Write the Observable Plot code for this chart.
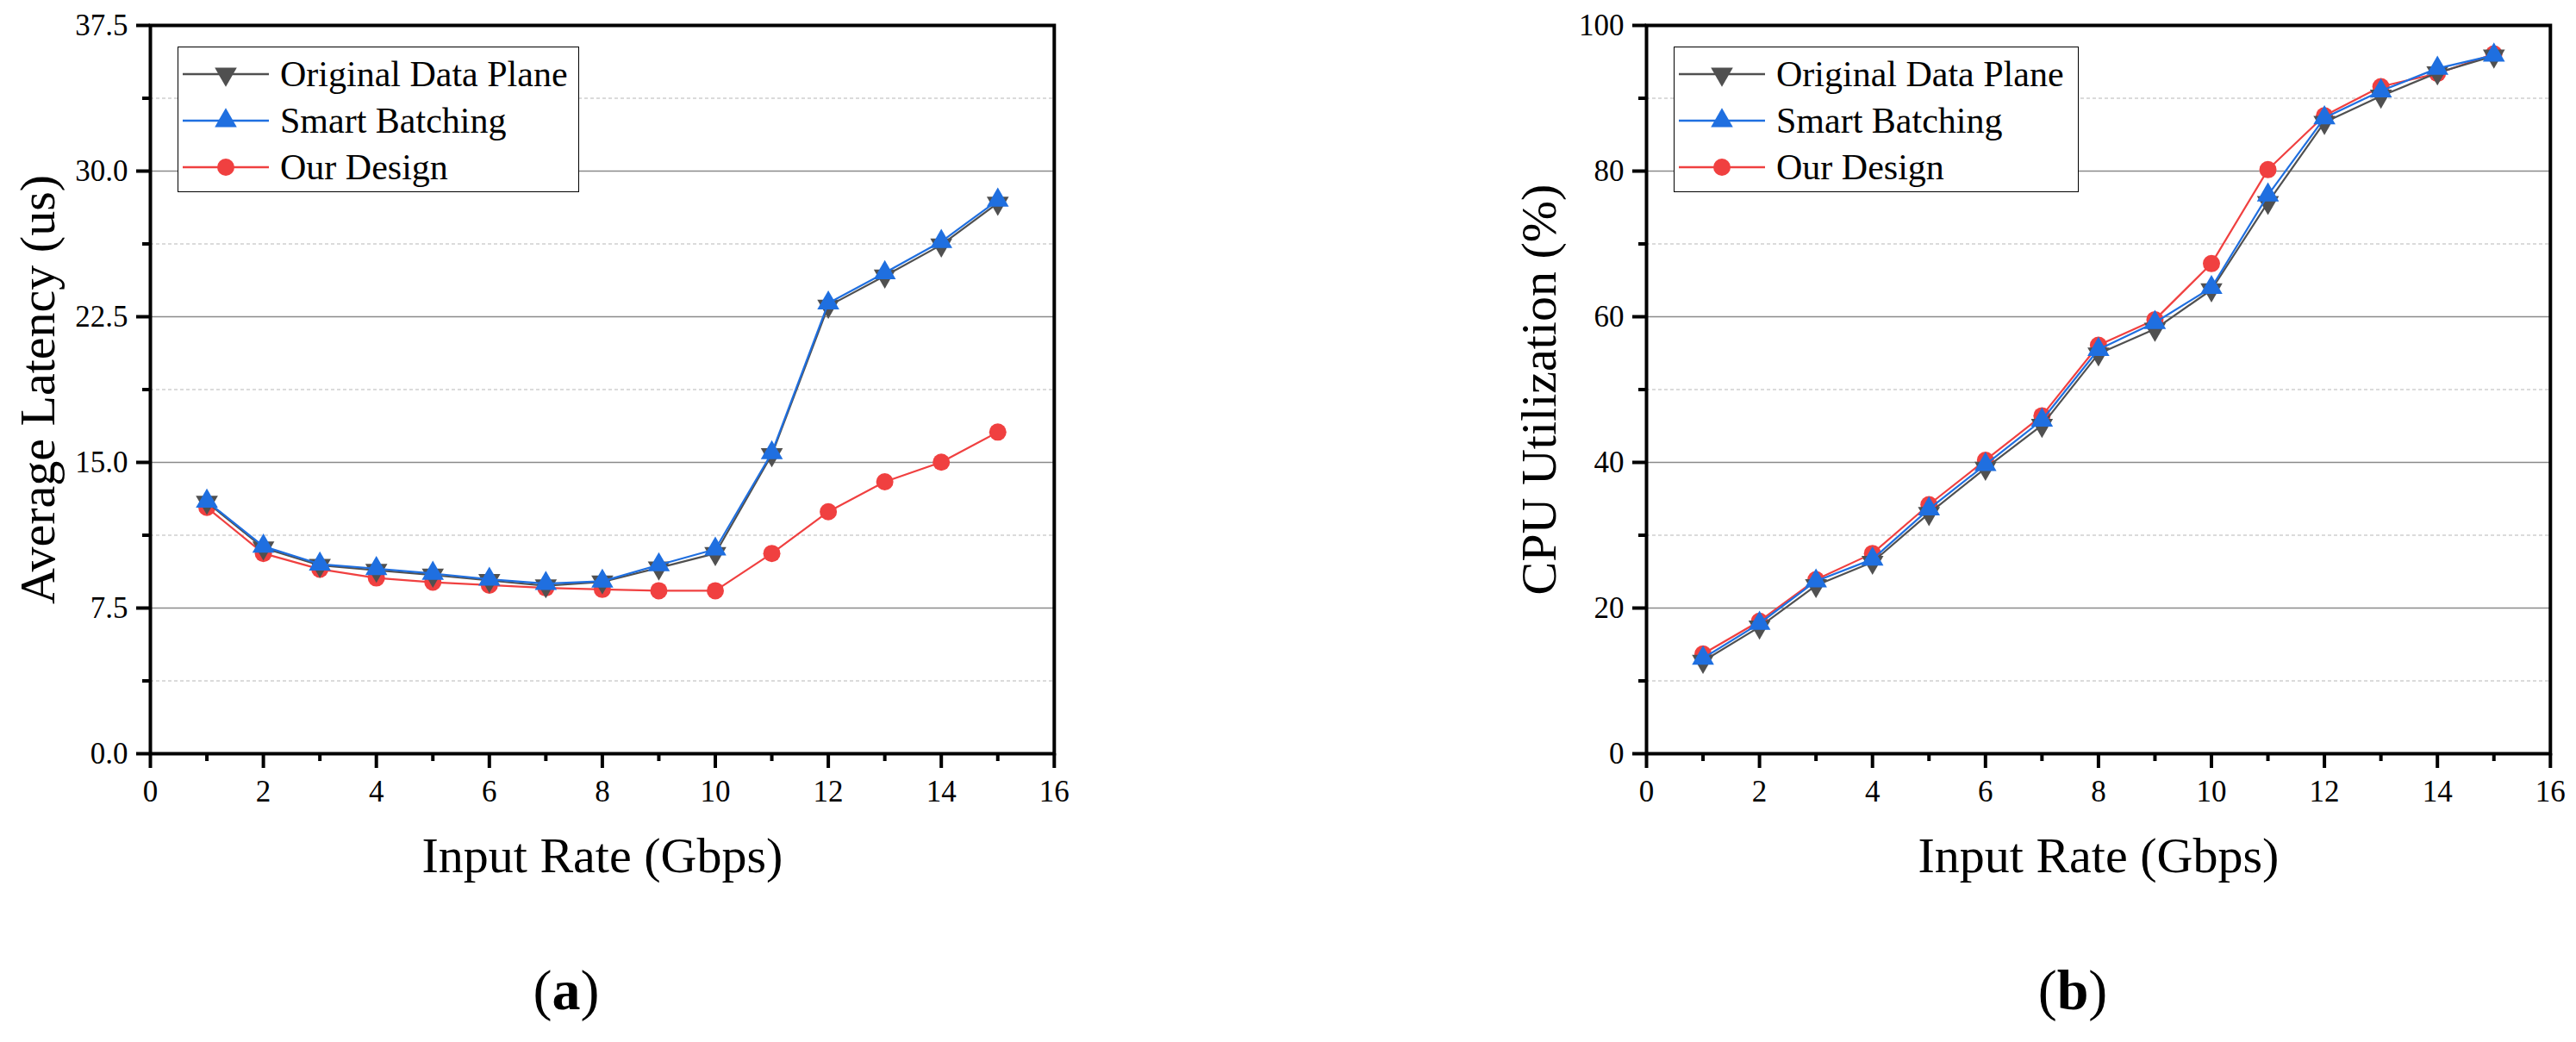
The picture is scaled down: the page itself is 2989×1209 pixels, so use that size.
<!DOCTYPE html>
<html>
<head>
<meta charset="utf-8">
<script src="https://cdn.jsdelivr.net/npm/d3@7"></script>
<script src="https://cdn.jsdelivr.net/npm/@observablehq/plot@0.6"></script>
<style>
  html, body { margin: 0; padding: 0; background: #fff; }
  #fig { position: relative; width: 2989px; height: 1209px; overflow: hidden;
         font-family: "Liberation Serif", "Times New Roman", serif; color: #000; }
  .panel { position: absolute; top: 0; }
  .legend { position: absolute; top: 54px; height: 169px; box-sizing: border-box;
            border: 1.5px solid #000; background: #fff; }
  .legend .row { position: absolute; left: 0; height: 54px; display: flex; align-items: center; }
  .legend .row span { font-size: 42px; margin-left: 8px; white-space: nowrap; line-height: 1; }
  .caption { position: absolute; font-size: 66px; transform: translate(-50%, -50%); white-space: nowrap; }
</style>
</head>
<body>
<div id="fig"></div>
<script>
// Input rate (Gbps) on the x axis
const rates = [1, 2, 3, 4, 5, 6, 7, 8, 9, 10, 11, 12, 13, 14, 15];

// Average latency (us)
const latencyOriginal = [12.95, 10.6, 9.7, 9.45, 9.2, 8.92, 8.65, 8.85, 9.57, 10.31, 15.4, 23.05, 24.6, 26.2, 28.35];
const latencyBatching = [13.0, 10.68, 9.76, 9.53, 9.28, 8.98, 8.76, 8.88, 9.72, 10.53, 15.49, 23.2, 24.76, 26.37, 28.5];
const latencyOurs     = [12.68, 10.31, 9.5, 9.05, 8.83, 8.68, 8.54, 8.46, 8.39, 8.39, 10.31, 12.46, 14.0, 15.01, 16.56];

// CPU utilization (%)
const cpuOriginal = [12.7, 17.4, 23.1, 26.3, 33.0, 39.2, 45.1, 54.9, 58.3, 63.7, 75.7, 86.7, 90.3, 93.5, 95.8];
const cpuBatching = [13.1, 17.9, 23.7, 26.7, 33.6, 39.7, 45.8, 55.5, 59.2, 64.0, 76.7, 87.3, 91.0, 94.1, 95.9];
const cpuOurs     = [13.7, 18.2, 23.9, 27.5, 34.2, 40.3, 46.4, 56.1, 59.6, 67.3, 80.2, 87.6, 91.6, 93.4, 96.1];

// Series names and tick values
const seriesNames = ["Original Data Plane", "Smart Batching", "Our Design"];
const xMajorTicks = [0, 2, 4, 6, 8, 10, 12, 14, 16];
const xMinorTicks = [1, 3, 5, 7, 9, 11, 13, 15];
const latencyMajorTicks = [0, 7.5, 15, 22.5, 30, 37.5];
const latencyMinorTicks = [3.75, 11.25, 18.75, 26.25, 33.75];
const cpuMajorTicks = [0, 20, 40, 60, 80, 100];
const cpuMinorTicks = [10, 30, 50, 70, 90];

const FONT = "'Liberation Serif', 'Times New Roman', serif";
const colors = ["#505050", "#1f6fe0", "#f04040"];

// Downward-pointing triangle, the mirror of d3.symbolTriangle
const triangleDown = {
  draw(context, size) {
    const y = -Math.sqrt(size / (Math.sqrt(3) * 3));
    context.moveTo(0, -y * 2);
    context.lineTo(-Math.sqrt(3) * y, y);
    context.lineTo(Math.sqrt(3) * y, y);
    context.closePath();
  }
};
const symbols = [triangleDown, "triangle", "circle"];
const radii = [9.5, 9.5, 10];
const d3Symbols = [triangleDown, d3.symbolTriangle, d3.symbolCircle];

const rowsOf = (values) => rates.map((rate, i) => ({rate, value: values[i]}));

function panel({values, yDomain, yMajor, yMinor, yFormat, yLabel, yLabelOffset, marginLeft, width}) {
  const frameRight = marginLeft + 16 * 65.55;
  // drawing order: red, gray, blue (blue markers sit on top)
  const order = [2, 0, 1];
  const seriesMarks = order.flatMap((k) => {
    const data = rowsOf(values[k]);
    return [
      Plot.line(data, {x: "rate", y: "value", stroke: colors[k], strokeWidth: 2.2}),
      Plot.dot(data, {x: "rate", y: "value", symbol: symbols[k], r: radii[k], fill: colors[k], stroke: "none"})
    ];
  });
  return Plot.plot({
    width,
    height: 1209,
    marginTop: 29,
    marginBottom: 335,
    marginLeft,
    marginRight: width - frameRight,
    x: {domain: [0, 16]},
    y: {domain: yDomain},
    style: {fontFamily: FONT, fontSize: "35px", background: "transparent", overflow: "visible", color: "#000"},
    marks: [
      Plot.gridY(yMinor, {stroke: "#b8b8b8", strokeOpacity: 1, strokeWidth: 1.2, strokeDasharray: "4,3"}),
      Plot.gridY(yMajor.slice(1, -1), {stroke: "#8a8a8a", strokeOpacity: 1, strokeWidth: 1.6}),
      ...seriesMarks,
      Plot.axisY(yMajor, {tickSize: 16, tickPadding: 10, strokeWidth: 4, fontSize: 35, tickFormat: yFormat, label: null}),
      Plot.axisY(yMinor, {tickSize: 9, strokeWidth: 4, tickFormat: () => "", label: null}),
      Plot.axisX(xMajorTicks, {tickSize: 17, tickPadding: 14, strokeWidth: 4, fontSize: 35, tickFormat: d3.format("d"), label: null}),
      Plot.axisX(xMinorTicks, {tickSize: 9, strokeWidth: 4, tickFormat: () => "", label: null}),
      Plot.frame({stroke: "#000", strokeWidth: 4}),
      Plot.text([yLabel], {text: (d) => d, frameAnchor: "left", dx: -yLabelOffset, rotate: -90,
                           fontSize: 58, textAnchor: "middle", lineAnchor: "middle"}),
      Plot.text(["Input Rate (Gbps)"], {text: (d) => d, frameAnchor: "bottom", dy: 119,
                                        fontSize: 58, lineAnchor: "middle"})
    ]
  });
}

function legend(fig, left, width) {
  const box = fig.append("div").attr("class", "legend")
    .style("left", left + "px").style("width", width + "px");
  seriesNames.forEach((name, i) => {
    const row = box.append("div").attr("class", "row").style("top", (4 + 54 * i) + "px");
    const svg = row.append("svg").attr("width", 110).attr("height", 54);
    svg.append("line").attr("x1", 5).attr("x2", 105).attr("y1", 27).attr("y2", 27)
      .attr("stroke", colors[i]).attr("stroke-width", 2.5);
    svg.append("path")
      .attr("transform", "translate(55,27)")
      .attr("d", d3.symbol(d3Symbols[i], radii[i] * radii[i] * Math.PI)())
      .attr("fill", colors[i]);
    row.append("span").text(name);
  });
}

const fig = d3.select("#fig");

const left = panel({
  values: [latencyOriginal, latencyBatching, latencyOurs],
  yDomain: [0, 37.5], yMajor: latencyMajorTicks, yMinor: latencyMinorTicks,
  yFormat: d3.format(".1f"), yLabel: "Average Latency (us)", yLabelOffset: 130,
  marginLeft: 174, width: 1494
});
const right = panel({
  values: [cpuOriginal, cpuBatching, cpuOurs],
  yDomain: [0, 100], yMajor: cpuMajorTicks, yMinor: cpuMinorTicks,
  yFormat: d3.format("d"), yLabel: "CPU Utilization (%)", yLabelOffset: 124,
  marginLeft: 416, width: 1495
});

fig.append("div").attr("class", "panel").style("left", "0px").node().appendChild(left);
fig.append("div").attr("class", "panel").style("left", "1494px").node().appendChild(right);

legend(fig, 206, 466);
legend(fig, 1942, 470);

fig.append("div").attr("class", "caption").style("left", "657px").style("top", "1149px").html("(<b>a</b>)");
fig.append("div").attr("class", "caption").style("left", "2405px").style("top", "1149px").html("(<b>b</b>)");
</script>
</body>
</html>
